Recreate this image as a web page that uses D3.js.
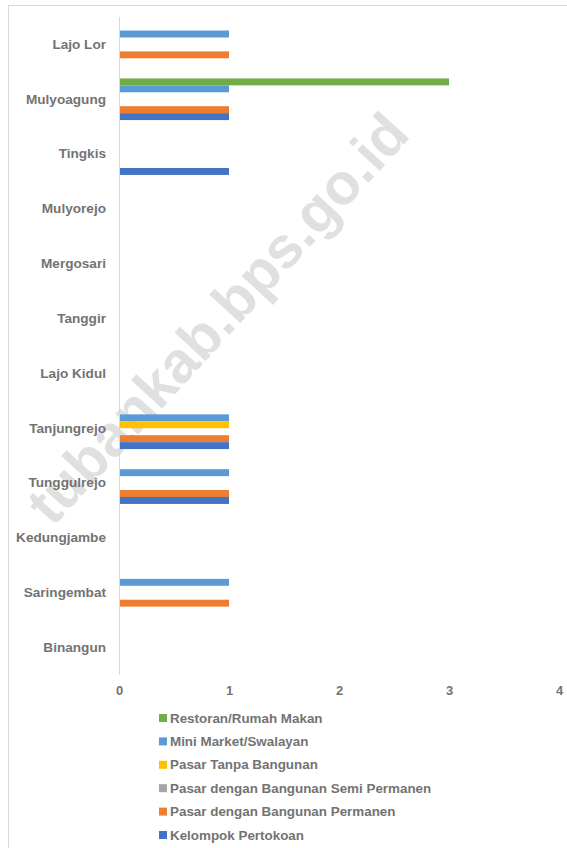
<!DOCTYPE html>
<html><head><meta charset="utf-8">
<script src="https://cdn.jsdelivr.net/npm/d3@7"></script>
<style>
html,body{margin:0;padding:0;background:#fff;}
svg{display:block;}
text{font-family:"Liberation Sans",Arial,sans-serif;}
</style></head>
<body>
<script>
const categories = ["Lajo Lor","Mulyoagung","Tingkis","Mulyorejo","Mergosari","Tanggir","Lajo Kidul","Tanjungrejo","Tunggulrejo","Kedungjambe","Saringembat","Binangun"];
const seriesNames = ["Restoran/Rumah Makan","Mini Market/Swalayan","Pasar Tanpa Bangunan","Pasar dengan Bangunan Semi Permanen","Pasar dengan Bangunan Permanen","Kelompok Pertokoan"];
const seriesColors = ["#70ad47","#5b9bd5","#ffc000","#a5a5a5","#ed7d31","#4472c4"];
const restoran    = [0,3,0,0,0,0,0,0,0,0,0,0];
const miniMarket  = [1,1,0,0,0,0,0,1,1,0,1,0];
const pasarTanpa  = [0,0,0,0,0,0,0,1,0,0,0,0];
const pasarSemi   = [0,0,0,0,0,0,0,0,0,0,0,0];
const pasarPerm   = [1,1,0,0,0,0,0,1,1,0,1,0];
const kelompok    = [0,1,1,0,0,0,0,1,1,0,0,0];
const seriesValues = [restoran, miniMarket, pasarTanpa, pasarSemi, pasarPerm, kelompok];
const xTicks = [0,1,2,3,4];
const watermark = "tubankab.bps.go.id";

const W = 567, H = 848;
const svg = d3.select("body").append("svg").attr("width", W).attr("height", H);

// chart border
svg.append("rect").attr("x", 8.5).attr("y", 5.5).attr("width", W).attr("height", H)
  .attr("fill", "none").attr("stroke", "#d9d9d9").attr("stroke-width", 1);

const x = d3.scaleLinear().domain([0, 4]).range([119, 559]);
const y = d3.scaleBand().domain(categories).range([17, 675]).paddingInner(0.24).paddingOuter(0.12);
const ySub = d3.scaleBand().domain(seriesNames).range([0, y.bandwidth()]);

// watermark
svg.append("text")
  .attr("transform", "translate(217,318) rotate(-47.5)")
  .attr("text-anchor", "middle").attr("dominant-baseline", "central")
  .attr("font-size", 58).attr("font-weight", "bold").attr("fill", "#e0e0e0")
  .style("font-family", "'Liberation Sans',Arial,sans-serif")
  .text(watermark);

// bars
const data = [];
categories.forEach((c, i) => seriesNames.forEach((s, j) => {
  data.push({cat: c, series: s, value: seriesValues[j][i], color: seriesColors[j]});
}));
svg.append("g").selectAll("rect").data(data.filter(d => d.value > 0)).join("rect")
  .attr("x", x(0)).attr("y", d => y(d.cat) + ySub(d.series))
  .attr("width", d => x(d.value) - x(0)).attr("height", ySub.bandwidth())
  .attr("fill", d => d.color);

// y axis line
svg.append("line").attr("x1", 119.5).attr("x2", 119.5).attr("y1", 17).attr("y2", 675)
  .attr("stroke", "#d9d9d9").attr("stroke-width", 1);

// category labels
const yAxis = svg.append("g").attr("transform", "translate(106,0)")
  .call(d3.axisLeft(y).tickSize(0).tickPadding(0));
yAxis.select(".domain").remove();
yAxis.selectAll("text").attr("font-size", 13.6).attr("font-weight", "bold").attr("fill", "#737373")
  .style("font-family", "'Liberation Sans',Arial,sans-serif");

// x axis labels
const xAxis = svg.append("g").attr("transform", "translate(0,686)")
  .call(d3.axisBottom(x).tickValues(xTicks).tickFormat(d3.format("d")).tickSize(0).tickPadding(0));
xAxis.select(".domain").remove();
xAxis.selectAll("text").attr("font-size", 13).attr("font-weight", "bold").attr("fill", "#737373")
  .attr("dy", "0.71em")
  .style("font-family", "'Liberation Sans',Arial,sans-serif");

// legend
const lg = svg.append("g");
seriesNames.forEach((s, i) => {
  const yy = 718 + i * 23.4;
  lg.append("rect").attr("x", 159).attr("y", yy - 4).attr("width", 8).attr("height", 8).attr("fill", seriesColors[i]);
  lg.append("text").attr("x", 170).attr("y", yy).attr("dominant-baseline", "central")
    .attr("font-size", 13.4).attr("font-weight", "bold").attr("fill", "#737373").text(s);
});
</script>
</body></html>
